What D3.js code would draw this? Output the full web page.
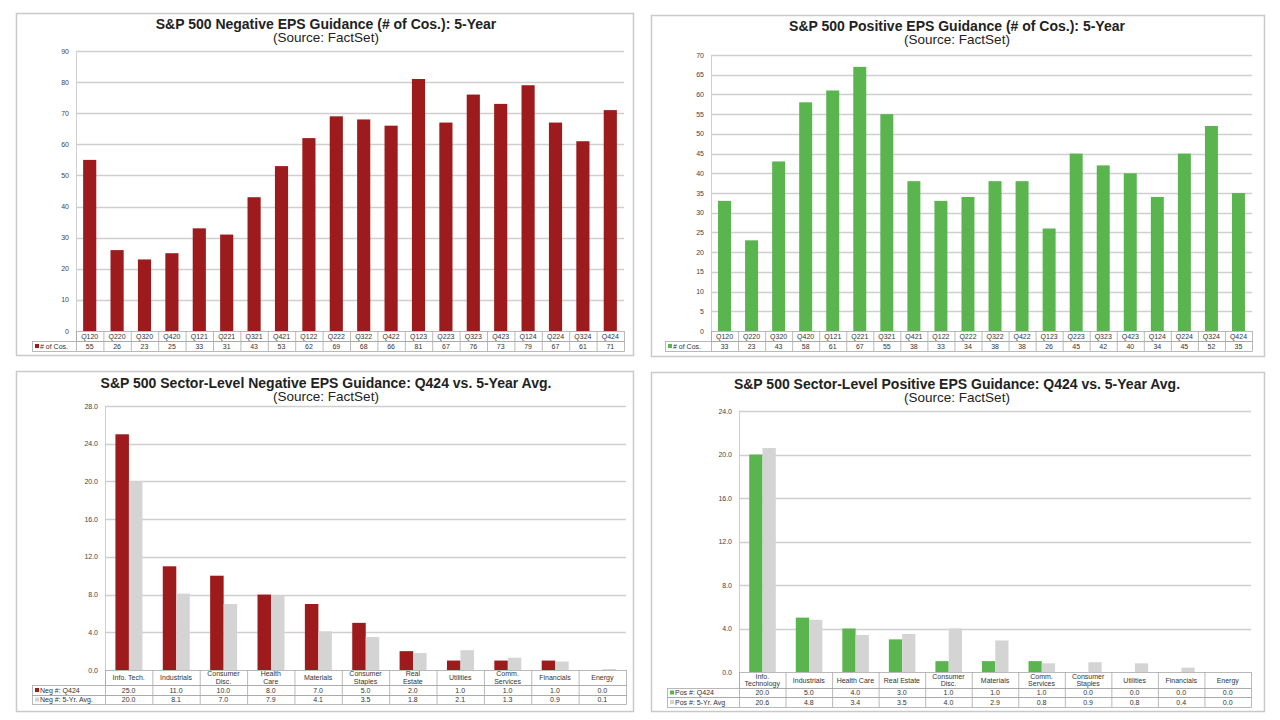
<!DOCTYPE html>
<html>
<head>
<meta charset="utf-8">
<script src="https://cdn.jsdelivr.net/npm/d3@7"></script>
<style>
  body { margin: 0; background: #fff; }
  svg { display: block; font-family: "Liberation Sans", Arial, sans-serif; }
</style>
</head>
<body>
<div id="chart"></div>
<script>
// quarterly counts
var quarters = ["Q120","Q220","Q320","Q420","Q121","Q221","Q321","Q421","Q122","Q222",
                "Q322","Q422","Q123","Q223","Q323","Q423","Q124","Q224","Q324","Q424"];
var negCounts = [55,26,23,25,33,31,43,53,62,69,68,66,81,67,76,73,79,67,61,71];
var posCounts = [33,23,43,58,61,67,55,38,33,34,38,38,26,45,42,40,34,45,52,35];
var negTicks = [0,10,20,30,40,50,60,70,80,90];
var posTicks = [0,5,10,15,20,25,30,35,40,45,50,55,60,65,70];

// sector level (lines split with |)
var negSectors = ["Info. Tech.","Industrials","Consumer|Disc.","Health|Care","Materials",
                  "Consumer|Staples","Real|Estate","Utilities","Comm.|Services","Financials","Energy"];
var negQ424 = [25.0,11.0,10.0,8.0,7.0,5.0,2.0,1.0,1.0,1.0,0.0];
var negAvg  = [20.0,8.1,7.0,7.9,4.1,3.5,1.8,2.1,1.3,0.9,0.1];
var posSectors = ["Info.|Technology","Industrials","Health Care","Real Estate","Consumer|Disc.",
                  "Materials","Comm.|Services","Consumer|Staples","Utilities","Financials","Energy"];
var posQ424 = [20.0,5.0,4.0,3.0,1.0,1.0,1.0,0.0,0.0,0.0,0.0];
var posAvg  = [20.6,4.8,3.4,3.5,4.0,2.9,0.8,0.9,0.8,0.4,0.0];
var sectorTicks = [0,4,8,12,16,20,24,28];
var sectorTicksPos = [0,4,8,12,16,20,24];

var RED = "#9e1b1d", GREEN = "#5ab54f", GRAY = "#d4d4d4";
var LINE = "#a8a8a8";

var svg = d3.select("#chart").append("svg")
    .attr("width", 1280)
    .attr("height", 720);

function frame(f) {
    svg.append("rect")
        .attr("x", f.x0 + 0.5).attr("y", f.y0 + 0.5)
        .attr("width", f.x1 - f.x0).attr("height", f.y1 - f.y0)
        .attr("fill", "#fff").attr("stroke", "#c9c9c9").attr("stroke-width", 1.5);
}

function titles(p) {
    svg.append("text")
        .attr("x", p.cx).attr("y", p.ty)
        .attr("text-anchor", "middle")
        .attr("font-size", 14).attr("font-weight", "bold").attr("fill", "#222")
        .text(p.title);
    svg.append("text")
        .attr("x", p.cx).attr("y", p.ty + 13)
        .attr("text-anchor", "middle")
        .attr("font-size", 13.5).attr("fill", "#222")
        .text("(Source: FactSet)");
}

function yAxis(p, y, ticks, fmt) {
    svg.append("g").selectAll("line")
        .data(ticks.filter(function(d) { return d > 0; }))
        .enter().append("line")
        .attr("x1", p.x0).attr("x2", p.x1)
        .attr("y1", function(d) { return Math.round(y(d)) + 0.5; })
        .attr("y2", function(d) { return Math.round(y(d)) + 0.5; })
        .attr("stroke", "#cfcfcf").attr("stroke-width", 1.5);
    svg.append("line")
        .attr("x1", p.x0 + 0.5).attr("x2", p.x0 + 0.5)
        .attr("y1", y(ticks[ticks.length - 1])).attr("y2", y(0))
        .attr("stroke", "#cfcfcf");
    svg.append("g").selectAll("text")
        .data(ticks)
        .enter().append("text")
        .attr("x", p.x0 - 7)
        .attr("y", function(d) { return y(d) + 2.5; })
        .attr("text-anchor", "end")
        .attr("font-size", 7).attr("fill", "#444")
        .text(function(d) { return fmt(d); });
}

function cellText(g, x, y, str, size) {
    var parts = str.split("|");
    var t = g.append("text")
        .attr("x", x)
        .attr("text-anchor", "middle")
        .attr("font-size", size).attr("fill", "#333");
    parts.forEach(function(s, i) {
        t.append("tspan")
            .attr("x", x)
            .attr("y", y + (i - (parts.length - 1) / 2) * 7.5)
            .text(s);
    });
}

function table(p, x, rows) {
    // rows: [{label, color, values, h}] first row is category row
    var g = svg.append("g");
    var yy = p.y0;
    rows.forEach(function(r, ri) {
        var left = ri === 0 ? p.x0 : p.legX;
        g.append("rect")
            .attr("x", left + 0.5).attr("y", yy + 0.5)
            .attr("width", p.x1 - left).attr("height", r.h)
            .attr("fill", "none").attr("stroke", LINE).attr("stroke-width", 0.8);
        x.domain().forEach(function(c, i) {
            g.append("line")
                .attr("x1", x(c) + 0.5).attr("x2", x(c) + 0.5)
                .attr("y1", yy).attr("y2", yy + r.h)
                .attr("stroke", LINE).attr("stroke-width", 0.8);
            cellText(g, x(c) + x.bandwidth() / 2, yy + r.h / 2 + 2.5,
                     r.values[i], p.fs);
        });
        if (ri > 0) {
            g.append("rect")
                .attr("x", p.legX + 3).attr("y", yy + r.h / 2 - 2)
                .attr("width", 4).attr("height", 4)
                .attr("fill", r.color);
            g.append("text")
                .attr("x", p.legX + 8).attr("y", yy + r.h / 2 + 2.5)
                .attr("font-size", p.fs).attr("fill", "#333")
                .text(r.label);
        }
        yy += r.h;
    });
}

function countPanel(p) {
    frame(p.frame);
    titles(p);
    var x = d3.scaleBand().domain(quarters).range([p.x0, p.x1]);
    var y = d3.scaleLinear().domain([0, p.max]).range([p.y0, p.yTop]);
    yAxis(p, y, p.ticks, d3.format("d"));
    var bw = x.bandwidth() * 0.48;
    svg.append("g").selectAll("rect")
        .data(p.values)
        .enter().append("rect")
        .attr("x", function(d, i) { return x(quarters[i]) + (x.bandwidth() - bw) / 2; })
        .attr("y", function(d) { return y(d); })
        .attr("width", bw)
        .attr("height", function(d) { return y(0) - y(d); })
        .attr("fill", p.color);
    table(p, x, [
        { h: 10, values: quarters },
        { h: 10, values: p.values.map(String), color: p.color, label: "# of Cos." }
    ]);
}

function sectorPanel(p) {
    frame(p.frame);
    titles(p);
    var x = d3.scaleBand().domain(p.sectors).range([p.x0, p.x1]);
    var inner = d3.scaleBand().domain(["q", "avg"])
        .range([x.bandwidth() * 0.22, x.bandwidth() * 0.79]);
    var y = d3.scaleLinear().domain([0, p.max]).range([p.y0, p.yTop]);
    yAxis(p, y, p.ticks, d3.format(".1f"));
    var series = [
        { key: "q", values: p.q, color: p.color },
        { key: "avg", values: p.avg, color: GRAY }
    ];
    series.forEach(function(s) {
        svg.append("g").selectAll("rect")
            .data(s.values)
            .enter().append("rect")
            .attr("x", function(d, i) { return x(p.sectors[i]) + inner(s.key); })
            .attr("y", function(d) { return y(d); })
            .attr("width", inner.bandwidth())
            .attr("height", function(d) { return y(0) - y(d); })
            .attr("fill", s.color);
    });
    var f = d3.format(".1f");
    table(p, x, [
        { h: p.rowH[0], values: p.sectors },
        { h: p.rowH[1], values: p.q.map(f), color: p.color, label: p.lab[0] },
        { h: p.rowH[2], values: p.avg.map(f), color: GRAY, label: p.lab[1] }
    ]);
}

countPanel({
    frame: { x0: 16, y0: 13, x1: 633, y1: 355 },
    title: "S&P 500 Negative EPS Guidance (# of Cos.): 5-Year",
    cx: 326, ty: 29,
    x0: 76, x1: 624, y0: 331, yTop: 51, max: 90, ticks: negTicks,
    legX: 32, fs: 7, values: negCounts, color: RED
});

countPanel({
    frame: { x0: 651, y0: 15, x1: 1264, y1: 356 },
    title: "S&P 500 Positive EPS Guidance (# of Cos.): 5-Year",
    cx: 957, ty: 31,
    x0: 711, x1: 1252, y0: 331, yTop: 55, max: 70, ticks: posTicks,
    legX: 665, fs: 7, values: posCounts, color: GREEN
});

sectorPanel({
    frame: { x0: 16, y0: 371, x1: 633, y1: 711 },
    title: "S&P 500 Sector-Level Negative EPS Guidance: Q424 vs. 5-Year Avg.",
    cx: 326, ty: 388,
    x0: 105, x1: 626, y0: 670, yTop: 406, max: 28, ticks: sectorTicks,
    legX: 32, fs: 7, rowH: [15, 10, 9],
    sectors: negSectors, q: negQ424, avg: negAvg, color: RED,
    lab: ["Neg #: Q424", "Neg #: 5-Yr. Avg."]
});

sectorPanel({
    frame: { x0: 651, y0: 372, x1: 1264, y1: 711 },
    title: "S&P 500 Sector-Level Positive EPS Guidance: Q424 vs. 5-Year Avg.",
    cx: 957, ty: 389,
    x0: 739, x1: 1251, y0: 672, yTop: 411, max: 24, ticks: sectorTicksPos,
    legX: 667, fs: 7, rowH: [16, 9, 10],
    sectors: posSectors, q: posQ424, avg: posAvg, color: GREEN,
    lab: ["Pos #: Q424", "Pos #: 5-Yr. Avg"]
});
</script>
</body>
</html>
